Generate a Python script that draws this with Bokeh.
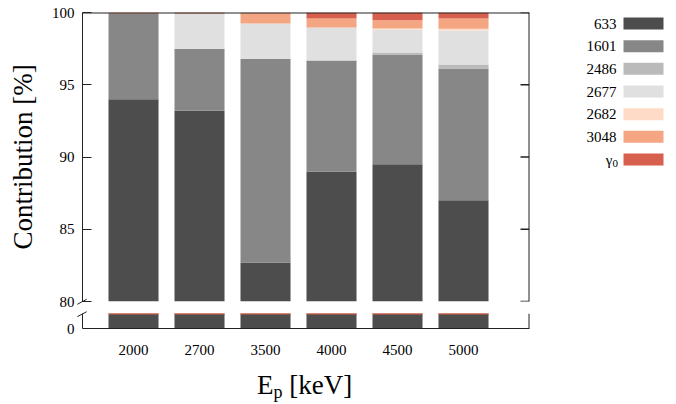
from bokeh.plotting import figure
from bokeh.layouts import row, column
from bokeh.models import (Range1d, LinearAxis, FixedTicker, Span, Div,
                          ColumnDataSource)
from bokeh.embed import file_html
from bokeh.resources import INLINE

# ---------------- data ----------------
energies = ["2000", "2700", "3500", "4000", "4500", "5000"]
names = ["633", "1601", "2486", "2677", "2682", "3048", "γ0"]
s633 = [94.0, 93.2, 82.7, 89.0, 89.5, 87.0]
s1601 = [5.93, 4.30, 14.1, 7.68, 7.60, 9.12]
s2486 = [0.0, 0.0, 0.0, 0.0, 0.14, 0.28]
s2677 = [0.0, 2.43, 2.44, 2.28, 1.59, 2.35]
s2682 = [0.0, 0.0, 0.0, 0.0, 0.07, 0.12]
s3048 = [0.0, 0.0, 0.76, 0.62, 0.56, 0.71]
sg0 = [0.07, 0.07, 0.0, 0.42, 0.54, 0.42]
colors = ["#4d4d4d", "#878787", "#bababa", "#e0e0e0", "#fddbc7", "#f4a582", "#d6604d"]
upper_ticks = [80, 85, 90, 95, 100]
lower_ticks = [0]

series = [s633, s1601, s2486, s2677, s2682, s3048, sg0]
keys = ["s%d" % i for i in range(len(series))]
xpos = list(range(len(energies)))
src = ColumnDataSource(dict(x=xpos, **{k: v for k, v in zip(keys, series)}))

FONT = "'Liberation Serif'"
AX = "#222222"
X0, X1 = -0.773, 6.0
xr = Range1d(X0, X1)
BW = 0.758
TICK = 9 / 66  # inward tick length in x data units


def style_axis(ax, size="15px"):
    ax.axis_line_color = AX
    ax.axis_line_width = 1
    ax.major_tick_line_color = AX
    ax.minor_tick_line_color = None
    ax.major_label_text_font = FONT
    ax.major_label_text_font_size = size
    ax.major_label_text_color = "black"
    ax.axis_label_text_font = FONT
    ax.axis_label_text_font_style = "normal"
    ax.axis_label_text_color = "black"


# ---------------- upper panel (80-100) ----------------
up = figure(width=541, height=309, x_range=xr, y_range=Range1d(80, 100),
            output_backend="svg", toolbar_location=None,
            x_axis_location=None, y_axis_location=None,
            min_border_left=82, min_border_right=12, min_border_top=12,
            min_border_bottom=8, outline_line_color=None)
up.grid.visible = False
up.vbar_stack(keys, x="x", width=BW, color=colors, line_color=None, source=src)

yl = LinearAxis(ticker=FixedTicker(ticks=upper_ticks), axis_label="Contribution [%]")
style_axis(yl)
yl.major_tick_in = 9
yl.major_tick_out = 0
yl.major_label_standoff = 8
yl.axis_label_text_font_size = "27px"
yl.axis_label_standoff = 11
up.add_layout(yl, "left")

# top and right border, inward ticks on the right
up.add_layout(Span(location=100, dimension="width", line_color=AX, line_width=2))
up.add_layout(Span(location=X1, dimension="height", line_color=AX, line_width=2))
up.segment(x0=[X1 - TICK] * len(upper_ticks), x1=[X1] * len(upper_ticks),
           y0=upper_ticks, y1=upper_ticks, line_color=AX, line_width=1.5)

# ---------------- lower panel (0) ----------------
lo = figure(width=541, height=57, x_range=xr, y_range=Range1d(0, 1),
            output_backend="svg", toolbar_location=None,
            x_axis_location=None, y_axis_location=None,
            min_border_left=82, min_border_right=12, min_border_top=4,
            min_border_bottom=38, outline_line_color=None)
lo.grid.visible = False
lo.vbar_stack(keys, x="x", width=BW, color=colors, line_color=None, source=src)
lo.segment(x0=[v - BW / 2 for v in xpos], x1=[v + BW / 2 for v in xpos],
           y0=[1] * len(xpos), y1=[1] * len(xpos), line_color=colors[-1], line_width=2)

xb = LinearAxis(ticker=FixedTicker(ticks=xpos),
                major_label_overrides={i: e for i, e in zip(xpos, energies)})
style_axis(xb)
xb.major_tick_in = 0
xb.major_tick_out = 0
xb.major_label_standoff = 16
lo.add_layout(xb, "below")

yl2 = LinearAxis(ticker=FixedTicker(ticks=lower_ticks))
style_axis(yl2)
yl2.major_tick_in = 0
yl2.major_tick_out = 0
yl2.major_label_standoff = 8
lo.add_layout(yl2, "left")

lo.add_layout(Span(location=X1, dimension="height", line_color=AX, line_width=2))

# x-axis title (with subscript) and the axis-break marks, drawn as HTML/SVG overlay
xlabel = Div(
    text=('<div style="position:relative;font-family:\'Liberation Serif\',serif;'
          'font-size:27px;line-height:27px;padding-left:257px;padding-top:6px;'
          'white-space:nowrap;color:black">E<span style="font-size:18px;'
          'position:relative;top:4px">p</span> [keV]'
          '<svg style="position:absolute;left:0;top:-76px;overflow:visible" '
          'width="100" height="40">'
          '<line x1="77.3" y1="14.3" x2="86.7" y2="9.3" stroke="#222" stroke-width="1"/>'
          '<line x1="77.3" y1="26.7" x2="86.7" y2="21.7" stroke="#222" stroke-width="1"/>'
          '</svg></div>'),
    width=541, height=38, margin=(0, 0, 0, 0))

# ---------------- legend panel ----------------
LW, LH = 135, 309
leg = figure(width=LW, height=LH, x_range=Range1d(0, LW), y_range=Range1d(LH, 0),
             output_backend="svg", toolbar_location=None,
             x_axis_location=None, y_axis_location=None,
             min_border=0, outline_line_color=None)
leg.grid.visible = False
rows_y = [23 + i * 22.67 for i in range(len(names))]
leg.rect(x=[102] * len(names), y=rows_y, width=40, height=12, color=colors, line_color=None)
main_txt, main_x, sub_txt, sub_y = [], [], [], []
for n, yy in zip(names, rows_y):
    if n.startswith("γ"):
        main_txt.append(n[0])
        main_x.append(71)
        sub_txt.append(n[1:])
        sub_y.append(yy + 4)
    else:
        main_txt.append(n)
        main_x.append(75)
leg.text(x=main_x, y=rows_y, text=main_txt,
         text_font={"value": FONT}, text_font_size={"value": "15px"},
         text_align="right", text_baseline="middle", text_color="black")
leg.text(x=[71] * len(sub_txt), y=sub_y, text=sub_txt,
         text_font={"value": FONT}, text_font_size={"value": "11px"},
         text_align="left", text_baseline="middle", text_color="black")

layout = row(column(up, lo, xlabel), leg)

open("out.html", "w").write(file_html(layout, INLINE))
